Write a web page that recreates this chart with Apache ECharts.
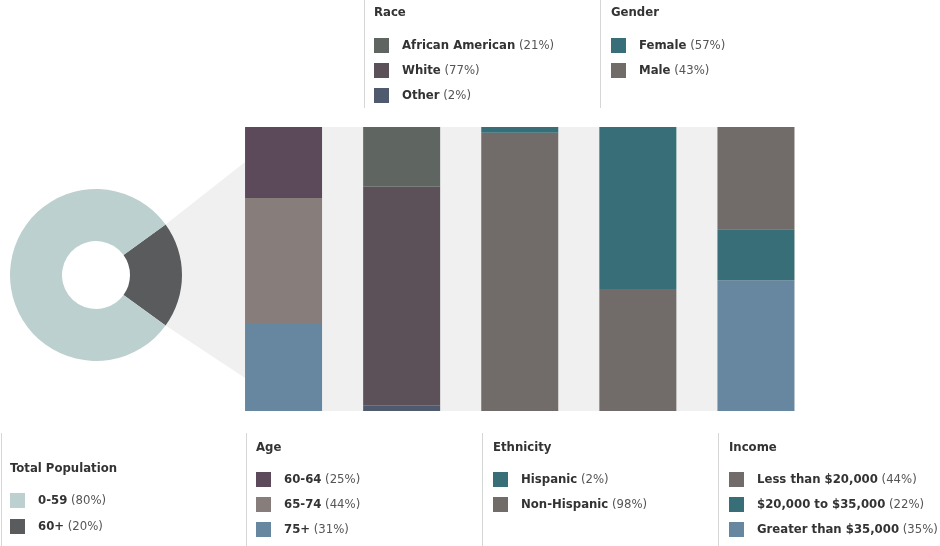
<!DOCTYPE html>
<html><head><meta charset="utf-8">
<script src="https://cdn.jsdelivr.net/npm/echarts@6/dist/echarts.min.js"></script>
<style>html,body{margin:0;padding:0;background:#fff}#c{width:940px;height:546px}</style>
</head><body><div id="c"></div>
<script>
// ---- data ----
const categories = ['Age', 'Race', 'Ethnicity', 'Gender', 'Income'];
// stacked segments, listed bottom to top
const ageNames = ['75+', '65-74', '60-64'];
const ageValues = [31, 44, 25];
const raceNames = ['Other', 'White', 'African American'];
const raceValues = [2, 77, 21];
const ethnicityNames = ['Non-Hispanic', 'Hispanic'];
const ethnicityValues = [98, 2];
const genderNames = ['Male', 'Female'];
const genderValues = [43, 57];
const incomeNames = ['Greater than $35,000', '$20,000 to $35,000', 'Less than $20,000'];
const incomeValues = [46, 18, 36];
const popNames = ['60+', '0-59'];
const popValues = [20, 80];
// legend label percentages as printed
const legendPct = {
  'African American': '21%', 'White': '77%', 'Other': '2%',
  'Female': '57%', 'Male': '43%',
  '0-59': '80%', '60+': '20%',
  '60-64': '25%', '65-74': '44%', '75+': '31%',
  'Hispanic': '2%', 'Non-Hispanic': '98%',
  'Less than $20,000': '44%', '$20,000 to $35,000': '22%', 'Greater than $35,000': '35%'
};
const colors = {
  '60-64': '#5c4a5a', '65-74': '#877d7a', '75+': '#6787a0',
  'African American': '#5f6661', 'White': '#5c5059', 'Other': '#4f5a6e',
  'Hispanic': '#386e77', 'Non-Hispanic': '#716c69',
  'Female': '#386e77', 'Male': '#716c69',
  'Less than $20,000': '#716c69', '$20,000 to $35,000': '#386e77', 'Greater than $35,000': '#6787a0',
  '0-59': '#bcd0cf', '60+': '#5a5b5d'
};

// ---- layout ----
const FONT = '"Liberation Sans Narrow", "DejaVu Sans Condensed", sans-serif';
const chart = echarts.init(document.getElementById('c'));
const groups = [ageNames, raceNames, ethnicityNames, genderNames, incomeNames];
const groupVals = [ageValues, raceValues, ethnicityValues, genderValues, incomeValues];
const series = [];
groups.forEach((names, gi) => {
  names.forEach((n, k) => {
    series.push({
      type: 'bar', name: n, stack: 'all', barWidth: 77,
      itemStyle: { color: colors[n] },
      data: categories.map((c, i) => i === gi ? groupVals[gi][k] : '-'),
      silent: true
    });
  });
});
series.push({
  type: 'pie', name: 'Total Population', center: [96, 275], radius: [34, 86],
  startAngle: 36, clockwise: true, label: { show: false }, labelLine: { show: false },
  silent: true,
  data: popNames.map((n, i) => ({ name: n, value: popValues[i], itemStyle: { color: colors[n] } }))
});

function legend(data, left, top, gap) {
  return {
    data: data, left: left, top: top, orient: 'vertical', padding: 0,
    icon: 'rect', itemWidth: 15, itemHeight: 15, itemGap: gap, selectedMode: false,
    formatter: n => '{s|}{n|' + n + '} {p|(' + legendPct[n] + ')}',
    textStyle: {
      fontFamily: FONT, fontSize: 13, lineHeight: 15,
      rich: {
        s: { width: 8 },
        n: { fontFamily: FONT, fontSize: 13, fontWeight: 'bold', color: '#333' },
        p: { fontFamily: FONT, fontSize: 13, color: '#555' }
      }
    }
  };
}
function title(text, left, top) {
  return { text: text, left: left, top: top, padding: 0,
    textStyle: { fontFamily: FONT, fontSize: 13, fontWeight: 'bold', color: '#333' } };
}

chart.setOption({
  animation: false,
  grid: { left: 224.5, right: 125, top: 127, bottom: 135 },
  xAxis: { type: 'category', data: categories, show: false },
  yAxis: { type: 'value', min: 0, max: 100, show: false },
  title: [
    title('Race', 374, 6), title('Gender', 611, 6),
    title('Total Population', 10, 462), title('Age', 256, 441),
    title('Ethnicity', 493, 441), title('Income', 729, 441)
  ],
  legend: [
    legend(['African American', 'White', 'Other'], 374, 38, 10),
    legend(['Female', 'Male'], 611, 38, 10),
    legend(['0-59', '60+'], 10, 493, 11),
    legend(['60-64', '65-74', '75+'], 256, 472, 10),
    legend(['Hispanic', 'Non-Hispanic'], 493, 472, 10),
    legend(['Less than $20,000', '$20,000 to $35,000', 'Greater than $35,000'], 729, 472, 10)
  ],
  series: series
});

// background panel + connector, derived from axis and pie geometry
const bw = 77;
const x0 = chart.convertToPixel({ xAxisIndex: 0 }, categories[0]) - bw / 2;
const x1 = chart.convertToPixel({ xAxisIndex: 0 }, categories[categories.length - 1]) + bw / 2;
const yTop = chart.convertToPixel({ yAxisIndex: 0 }, 100);
const yBot = chart.convertToPixel({ yAxisIndex: 0 }, 0);
const cx = 96, cy = 275, R = 86, a = 36 * Math.PI / 180;
const h = yBot - yTop;
const lineStyle = { stroke: '#d6d6d6', lineWidth: 1 };
chart.setOption({
  graphic: [
    { type: 'rect', z: -10, shape: { x: x0, y: yTop, width: x1 - x0, height: h }, style: { fill: '#f0f0f0' } },
    { type: 'polygon', z: -10, shape: { points: [
      [cx + R * Math.cos(a), cy - R * Math.sin(a)], [x0, yTop + 0.123 * h],
      [x0, yTop + 0.884 * h], [cx + R * Math.cos(a), cy + R * Math.sin(a)]] },
      style: { fill: '#f0f0f0' } },
    { type: 'line', shape: { x1: 364.5, y1: 0, x2: 364.5, y2: 108 }, style: lineStyle },
    { type: 'line', shape: { x1: 600.5, y1: 0, x2: 600.5, y2: 108 }, style: lineStyle },
    { type: 'line', shape: { x1: 1.5, y1: 433, x2: 1.5, y2: 546 }, style: lineStyle },
    { type: 'line', shape: { x1: 246.5, y1: 433, x2: 246.5, y2: 546 }, style: lineStyle },
    { type: 'line', shape: { x1: 482.5, y1: 433, x2: 482.5, y2: 546 }, style: lineStyle },
    { type: 'line', shape: { x1: 718.5, y1: 433, x2: 718.5, y2: 546 }, style: lineStyle }
  ]
});
</script></body></html>
